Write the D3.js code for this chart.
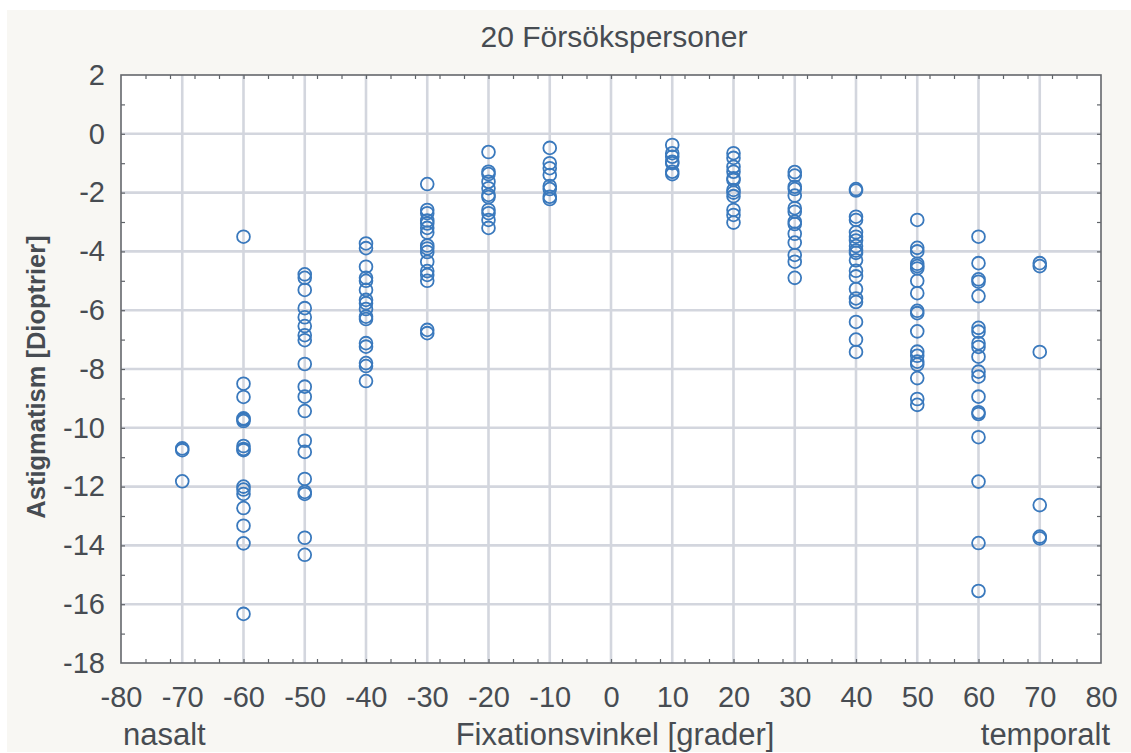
<!DOCTYPE html>
<html>
<head>
<meta charset="utf-8">
<script src="https://cdn.jsdelivr.net/npm/d3@7"></script>
<style>
  html, body { margin: 0; padding: 0; background: #ffffff; }
  svg { display: block; }
  text { font-family: "Liberation Sans", Arial, sans-serif; fill: #474c52; }
</style>
</head>
<body>
<svg id="chart" width="1131" height="753"></svg>
<script>
// Fixation angle (degrees) for each measurement group
const angles = [-70, -60, -50, -40, -30, -20, -10, 10, 20, 30, 40, 50, 60, 70];

// Astigmatism readings (dioptres) per fixation angle
const astM70 = [-10.7, -10.76, -11.82];
const astM60 = [-3.5, -8.5, -8.95, -9.68, -9.72, -9.77, -10.62, -10.72, -10.76, -12.0, -12.1, -12.25, -12.73, -13.33, -13.93, -16.33];
const astM50 = [-4.78, -4.9, -5.31, -5.93, -6.24, -6.54, -6.85, -7.02, -7.83, -8.6, -8.94, -9.43, -10.44, -10.82, -11.74, -12.18, -12.25, -13.74, -14.32];
const astM40 = [-3.73, -3.89, -4.52, -4.9, -5.0, -5.31, -5.65, -5.76, -5.96, -6.22, -6.3, -7.12, -7.24, -7.8, -7.9, -8.41];
const astM30 = [-1.71, -2.59, -2.7, -2.95, -3.05, -3.2, -3.36, -3.8, -3.9, -4.02, -4.35, -4.67, -4.8, -5.0, -6.67, -6.78];
const astM20 = [-0.62, -1.29, -1.37, -1.63, -1.85, -2.08, -2.15, -2.59, -2.7, -2.93, -3.2];
const astM10 = [-0.48, -1.0, -1.17, -1.4, -1.78, -1.88, -2.14, -2.22];
const astP10 = [-0.38, -0.66, -0.78, -0.95, -1.0, -1.29, -1.37];
const astP20 = [-0.66, -0.82, -1.12, -1.29, -1.51, -1.57, -1.91, -2.0, -2.12, -2.59, -2.76, -3.02];
const astP30 = [-1.3, -1.42, -1.8, -1.88, -2.1, -2.53, -2.65, -2.99, -3.07, -3.4, -3.7, -4.12, -4.35, -4.9];
const astP40 = [-1.88, -1.93, -2.82, -2.93, -3.35, -3.5, -3.63, -3.82, -3.97, -4.05, -4.3, -4.66, -4.85, -5.28, -5.6, -5.72, -6.4, -7.0, -7.42];
const astP50 = [-2.93, -3.88, -4.0, -4.42, -4.5, -4.58, -5.0, -5.42, -6.02, -6.1, -6.72, -7.41, -7.55, -7.75, -7.85, -8.31, -9.02, -9.22];
const astP60 = [-3.5, -4.4, -4.95, -5.03, -5.52, -6.6, -6.73, -7.12, -7.25, -7.58, -8.09, -8.26, -8.94, -9.47, -9.53, -10.32, -11.83, -13.92, -15.55];
const astP70 = [-4.4, -4.5, -7.42, -12.63, -13.7, -13.76];

const readings = [astM70, astM60, astM50, astM40, astM30, astM20, astM10,
                  astP10, astP20, astP30, astP40, astP50, astP60, astP70];

// Axis ticks and labels
const xTickValues = d3.range(-80, 81, 10);
const yTickValues = d3.range(-18, 3, 2);
const titleText = "20 Försökspersoner";
const xTitle = "Fixationsvinkel [grader]";
const yTitle = "Astigmatism [Dioptrier]";
const leftNote = "nasalt";
const rightNote = "temporalt";

const points = [];
angles.forEach((a, i) => readings[i].forEach(v => points.push({ angle: a, value: v })));

const svg = d3.select("#chart");
const W = 1131, H = 753;
const plot = { left: 121, right: 1101, top: 75, bottom: 663 };

const x = d3.scaleLinear().domain([-80, 80]).range([plot.left, plot.right]);
const y = d3.scaleLinear().domain([-18, 2]).range([plot.bottom, plot.top]);

// Plain hyphen-minus labels
const numLabel = d => String(d);

// Page background panel
svg.append("rect").attr("x", 0).attr("y", 0).attr("width", W).attr("height", H).attr("fill", "#ffffff");
svg.append("rect").attr("x", 7).attr("y", 10).attr("width", W - 7).attr("height", H - 11).attr("fill", "#f8f7f3");

// Plot area
svg.append("rect")
  .attr("x", plot.left).attr("y", plot.top)
  .attr("width", plot.right - plot.left).attr("height", plot.bottom - plot.top)
  .attr("fill", "#ffffff");

// Grid lines
const grid = svg.append("g").attr("stroke", "#d3d6de").attr("stroke-width", 2.6);
grid.selectAll("line.gx")
  .data(xTickValues.filter(v => v > -80 && v < 80))
  .join("line")
  .attr("x1", d => x(d)).attr("x2", d => x(d))
  .attr("y1", plot.top).attr("y2", plot.bottom);
grid.selectAll("line.gy")
  .data(yTickValues.filter(v => v > -18 && v < 2))
  .join("line")
  .attr("x1", plot.left).attr("x2", plot.right)
  .attr("y1", d => y(d)).attr("y2", d => y(d));

// Minor inward ticks on all four sides
function tickAxis(axis, transform) {
  const g = svg.append("g").attr("transform", transform).call(axis);
  g.select(".domain").remove();
  g.selectAll("line").attr("stroke", "#5f6368").attr("stroke-width", 1.2);
  g.selectAll("text").remove();
  return g;
}
const xMinor = d3.range(-76, 80, 4);
const yMinor = d3.range(-17, 2, 1);
tickAxis(d3.axisBottom(x).tickValues(xMinor).tickSize(-4), `translate(0,${plot.bottom})`);
tickAxis(d3.axisTop(x).tickValues(xMinor).tickSize(-4), `translate(0,${plot.top})`);
tickAxis(d3.axisLeft(y).tickValues(yMinor).tickSize(-4), `translate(${plot.left},0)`);
tickAxis(d3.axisRight(y).tickValues(yMinor).tickSize(-4), `translate(${plot.right},0)`);

// Tick labels
const xAxis = svg.append("g")
  .attr("transform", `translate(0,${plot.bottom})`)
  .call(d3.axisBottom(x).tickValues(xTickValues).tickSize(0).tickPadding(44).tickFormat(numLabel));
xAxis.select(".domain").remove();
xAxis.selectAll("text").attr("font-size", 29).attr("fill", "#474c52")
  .attr("font-family", "Liberation Sans, Arial, sans-serif").attr("dy", 0);

const yAxis = svg.append("g")
  .attr("transform", `translate(${plot.left},0)`)
  .call(d3.axisLeft(y).tickValues(yTickValues).tickSize(0).tickPadding(16).tickFormat(numLabel));
yAxis.select(".domain").remove();
yAxis.selectAll("text").attr("font-size", 29).attr("fill", "#474c52")
  .attr("font-family", "Liberation Sans, Arial, sans-serif");

// Frame
svg.append("rect")
  .attr("x", plot.left).attr("y", plot.top)
  .attr("width", plot.right - plot.left).attr("height", plot.bottom - plot.top)
  .attr("fill", "none").attr("stroke", "#64676c").attr("stroke-width", 1.6);

// Data markers: open circles
svg.append("g")
  .selectAll("circle")
  .data(points)
  .join("circle")
  .attr("cx", d => x(d.angle))
  .attr("cy", d => y(d.value))
  .attr("r", 6.4)
  .attr("fill", "none")
  .attr("stroke", "#3a79bd")
  .attr("stroke-width", 1.8);

// Titles
svg.append("text").attr("x", 614).attr("y", 47).attr("text-anchor", "middle")
  .attr("font-size", 30).text(titleText);
svg.append("text").attr("x", 615).attr("y", 745).attr("text-anchor", "middle")
  .attr("font-size", 31).text(xTitle);
svg.append("text").attr("x", plot.left + 2).attr("y", 745).attr("text-anchor", "start")
  .attr("font-size", 31).text(leftNote);
svg.append("text").attr("x", 1110).attr("y", 745).attr("text-anchor", "end")
  .attr("font-size", 31).text(rightNote);
svg.append("text")
  .attr("transform", `translate(45,${(plot.top + plot.bottom) / 2 + 8}) rotate(-90)`)
  .attr("text-anchor", "middle").attr("font-size", 25.5).attr("font-weight", "bold")
  .text(yTitle);
</script>
</body>
</html>
